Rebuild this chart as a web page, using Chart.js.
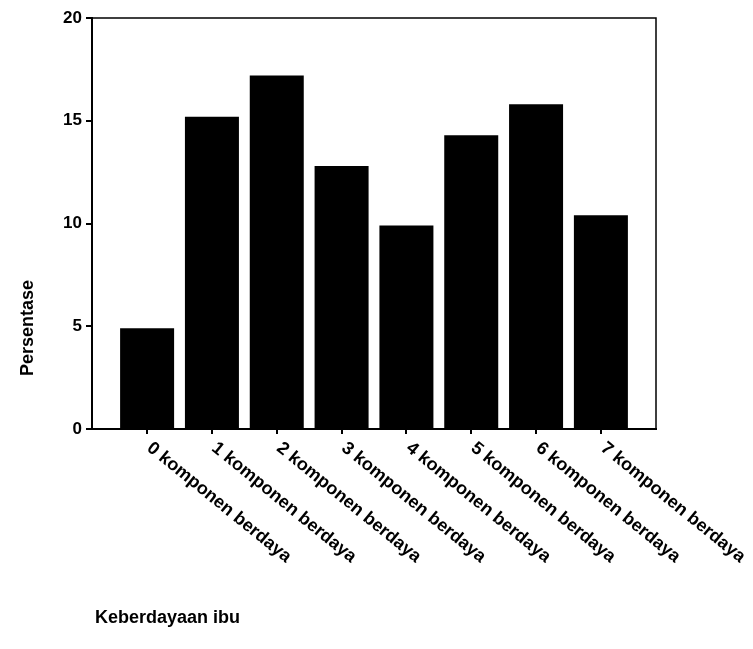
<!DOCTYPE html>
<html>
<head>
<meta charset="utf-8">
<script src="https://cdn.jsdelivr.net/npm/chart.js@4.4.0/dist/chart.umd.js"></script>
<style>
  html, body { margin: 0; padding: 0; background: #fff; }
  canvas { display: block; }
</style>
</head>
<body>
<canvas id="chart" width="753" height="649"></canvas>
<script>
// data
const categories = [
    '0 komponen berdaya',
    '1 komponen berdaya',
    '2 komponen berdaya',
    '3 komponen berdaya',
    '4 komponen berdaya',
    '5 komponen berdaya',
    '6 komponen berdaya',
    '7 komponen berdaya'
];
const persentase = [4.9, 15.2, 17.2, 12.8, 9.9, 14.3, 15.8, 10.4];
const yTicks = [0, 5, 10, 15, 20];

const FONT = '"Liberation Sans", Arial, sans-serif';

// frame, rotated category labels and axis titles
const decorations = {
    id: 'decorations',
    afterDraw(chart) {
        const ctx = chart.ctx;
        const area = chart.chartArea;
        const x = chart.scales.x;

        ctx.save();
        ctx.strokeStyle = '#000';
        ctx.lineWidth = 1.5;
        ctx.beginPath();
        ctx.moveTo(area.left, area.top);
        ctx.lineTo(area.right, area.top);
        ctx.lineTo(area.right, area.bottom);
        ctx.stroke();

        ctx.fillStyle = '#000';
        ctx.font = 'bold 18px ' + FONT;
        ctx.textAlign = 'left';
        ctx.textBaseline = 'middle';
        categories.forEach((label, i) => {
            const px = x.getPixelForValue(i);
            ctx.save();
            ctx.translate(px + 2, area.bottom + 17);
            ctx.rotate(39 * Math.PI / 180);
            ctx.fillText(label, 0, 0);
            ctx.restore();
        });

        ctx.font = 'bold 18px ' + FONT;
        ctx.textBaseline = 'alphabetic';
        ctx.fillText('Keberdayaan ibu', 95, 623);

        ctx.save();
        ctx.translate(33, 328);
        ctx.rotate(-Math.PI / 2);
        ctx.textAlign = 'center';
        ctx.fillText('Persentase', 0, 0);
        ctx.restore();
        ctx.restore();
    }
};

new Chart(document.getElementById('chart'), {
    type: 'bar',
    data: {
        datasets: [{
            data: persentase.map((v, i) => ({ x: i, y: v })),
            backgroundColor: '#000',
            borderWidth: 0,
            barPercentage: 0.833,
            categoryPercentage: 1
        }]
    },
    options: {
        responsive: false,
        devicePixelRatio: 1,
        animation: false,
        layout: { padding: { left: 0, right: 97, top: 18, bottom: 0 } },
        plugins: {
            legend: { display: false },
            tooltip: { enabled: false }
        },
        scales: {
            x: {
                type: 'linear',
                min: -0.85,
                max: 7.85,
                offset: false,
                afterBuildTicks: (axis) => {
                    axis.ticks = categories.map((c, i) => ({ value: i }));
                },
                afterFit: (axis) => { axis.height = 220; },
                grid: {
                    offset: false,
                    drawOnChartArea: false,
                    tickLength: 5,
                    color: '#000',
                    lineWidth: 2
                },
                border: { color: '#000', width: 2 },
                ticks: { display: false }
            },
            y: {
                min: 0,
                max: 20,
                afterBuildTicks: (axis) => {
                    axis.ticks = yTicks.map(v => ({ value: v }));
                },
                afterFit: (axis) => { axis.width = 92; },
                grid: {
                    drawOnChartArea: false,
                    tickLength: 6,
                    color: '#000',
                    lineWidth: 2
                },
                border: { color: '#000', width: 2 },
                ticks: {
                    color: '#000',
                    padding: 4,
                    font: { family: FONT, size: 17, weight: 'bold' }
                }
            }
        }
    },
    plugins: [decorations]
});
</script>
</body>
</html>
